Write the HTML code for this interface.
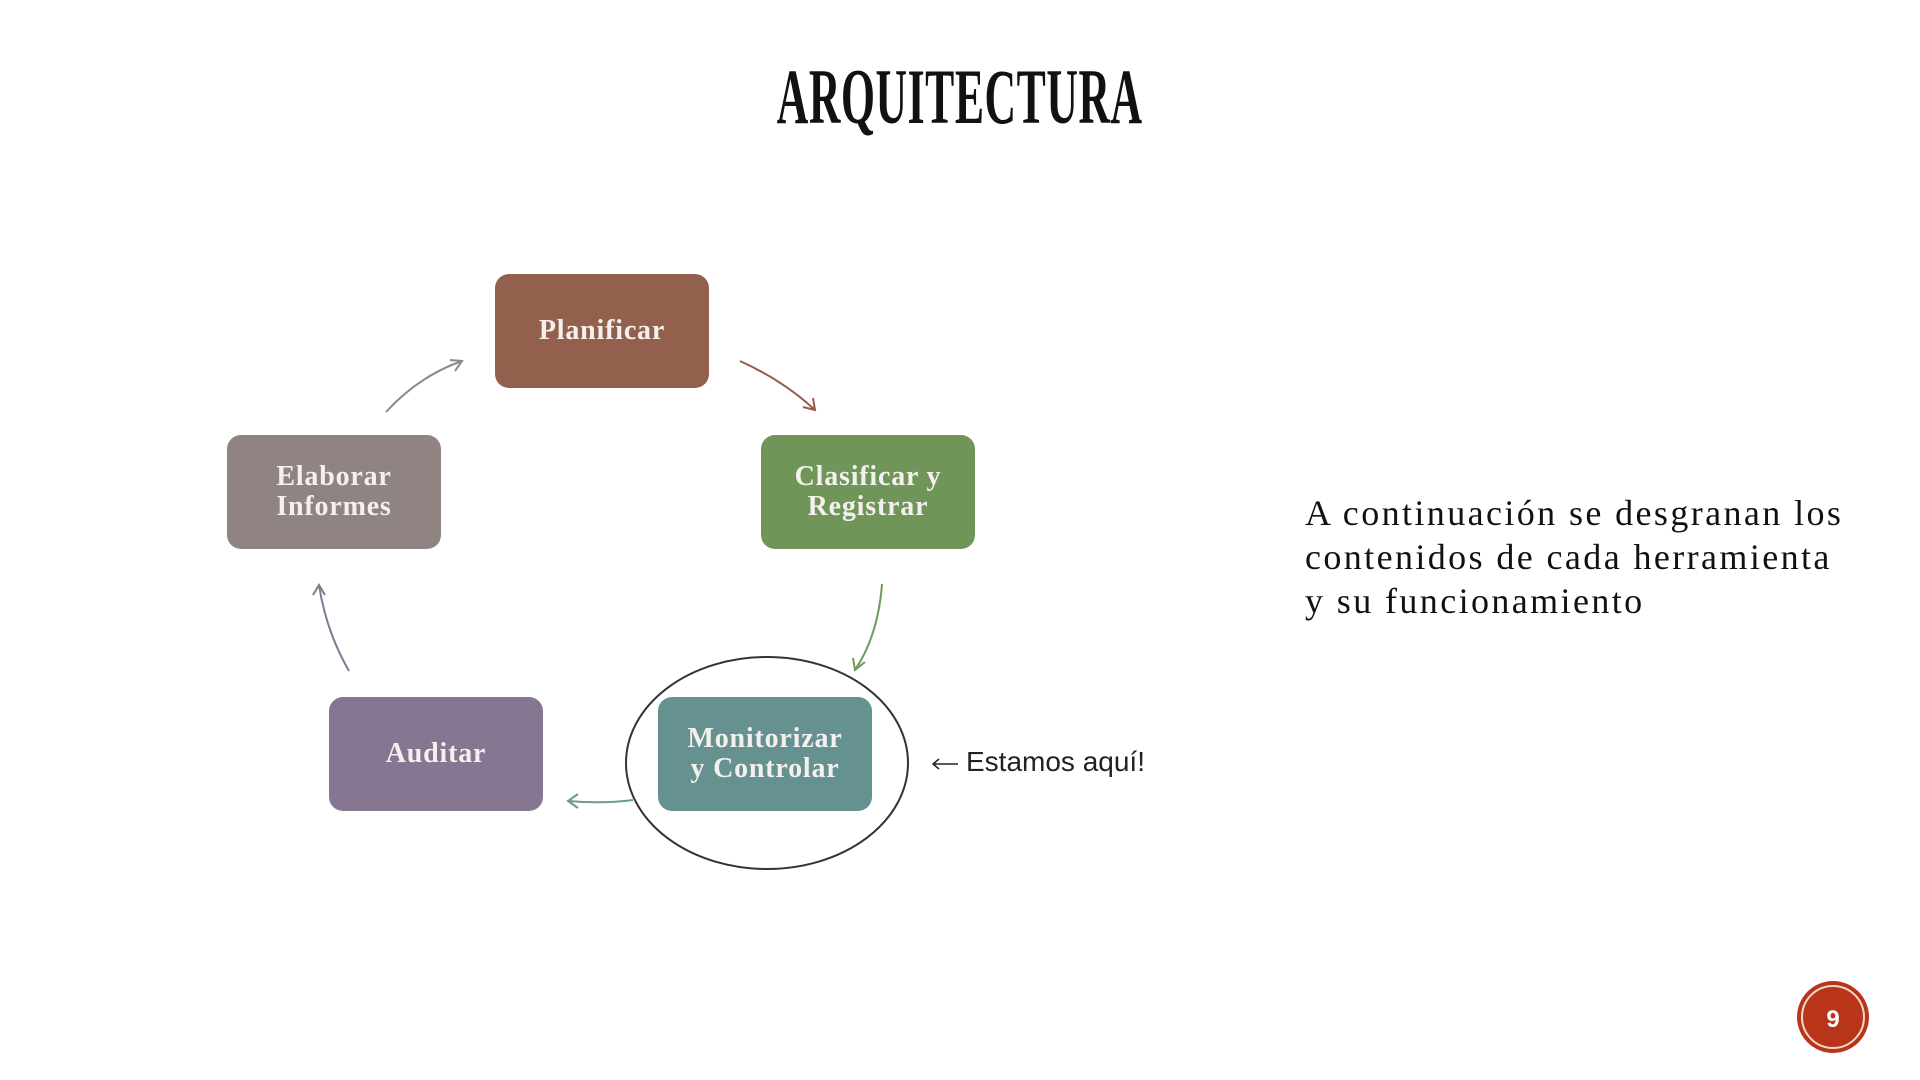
<!DOCTYPE html>
<html><head><meta charset="utf-8"><style>
body{margin:0;width:1920px;height:1080px;background:#fff;overflow:hidden;position:relative;font-family:"Liberation Serif",serif}
.t{position:absolute;left:0;width:1920px;top:52px;text-align:center;font-size:78px;font-weight:bold;color:#111}
.t span{display:inline-block;transform:scaleX(0.56);letter-spacing:1px}
.b{position:absolute;width:214px;height:114px;border-radius:14px;color:#f4f0ee;font-size:28px;display:flex;align-items:center;justify-content:center;text-align:center;line-height:30px;letter-spacing:0.8px;font-weight:bold}
.p{position:absolute;left:1305px;top:491px;font-size:36px;line-height:44px;color:#111;letter-spacing:2.4px}
</style></head><body>
<div class="t"><span>ARQUITECTURA</span></div>
<svg width="1920" height="1080" style="position:absolute;left:0;top:0">
<ellipse cx="767" cy="763" rx="141" ry="106" fill="none" stroke="#333" stroke-width="2"/>
<g fill="none" stroke-width="2">
<path d="M386 412 Q419 376 462 361" stroke="#8a8a8a"/><path d="M450 360 L462 361 L455 371" stroke="#8a8a8a"/>
<path d="M740 361 Q784 381 815 410" stroke="#9b5a4e"/><path d="M813 398 L815 410 L803 407" stroke="#9b5a4e"/>
<path d="M882 584 Q878 636 855 670" stroke="#6f9a58"/><path d="M853 658 L855 670 L865 662" stroke="#6f9a58"/>
<path d="M633 800 Q603 804 568 801" stroke="#6a9a98"/><path d="M578 794 L568 801 L578 808" stroke="#6a9a98"/>
<path d="M349 671 Q326 631 319 585" stroke="#857692"/><path d="M313 595 L319 585 L325 595" stroke="#857692"/>
<path d="M933 764 L958 764 M939 759 L933 764 L939 769" stroke="#222" stroke-width="1.5"/>
</g>
<circle cx="1833" cy="1017" r="36" fill="#b8351a"/>
<circle cx="1833" cy="1017" r="31" fill="none" stroke="#f3d8c8" stroke-width="2"/>
<text x="1833" y="1027" font-family="Liberation Sans" font-weight="bold" font-size="24" fill="#fff" text-anchor="middle">9</text>
</svg>
<div class="b" style="left:495px;top:274px;background:#94604e">Planificar</div>
<div class="b" style="left:761px;top:435px;background:#6f9558">Clasificar y<br>Registrar</div>
<div class="b" style="left:227px;top:435px;background:#8f8482">Elaborar<br>Informes</div>
<div class="b" style="left:329px;top:697px;background:#857692">Auditar</div>
<div class="b" style="left:658px;top:697px;background:#669191">Monitorizar<br>y Controlar</div>
<div style="position:absolute;left:966px;top:746px;font-family:'Liberation Sans',sans-serif;font-size:28px;color:#222">Estamos aquí!</div>
<div class="p">A continuación se desgranan los<br>contenidos de cada herramienta<br>y su funcionamiento</div>
</body></html>
